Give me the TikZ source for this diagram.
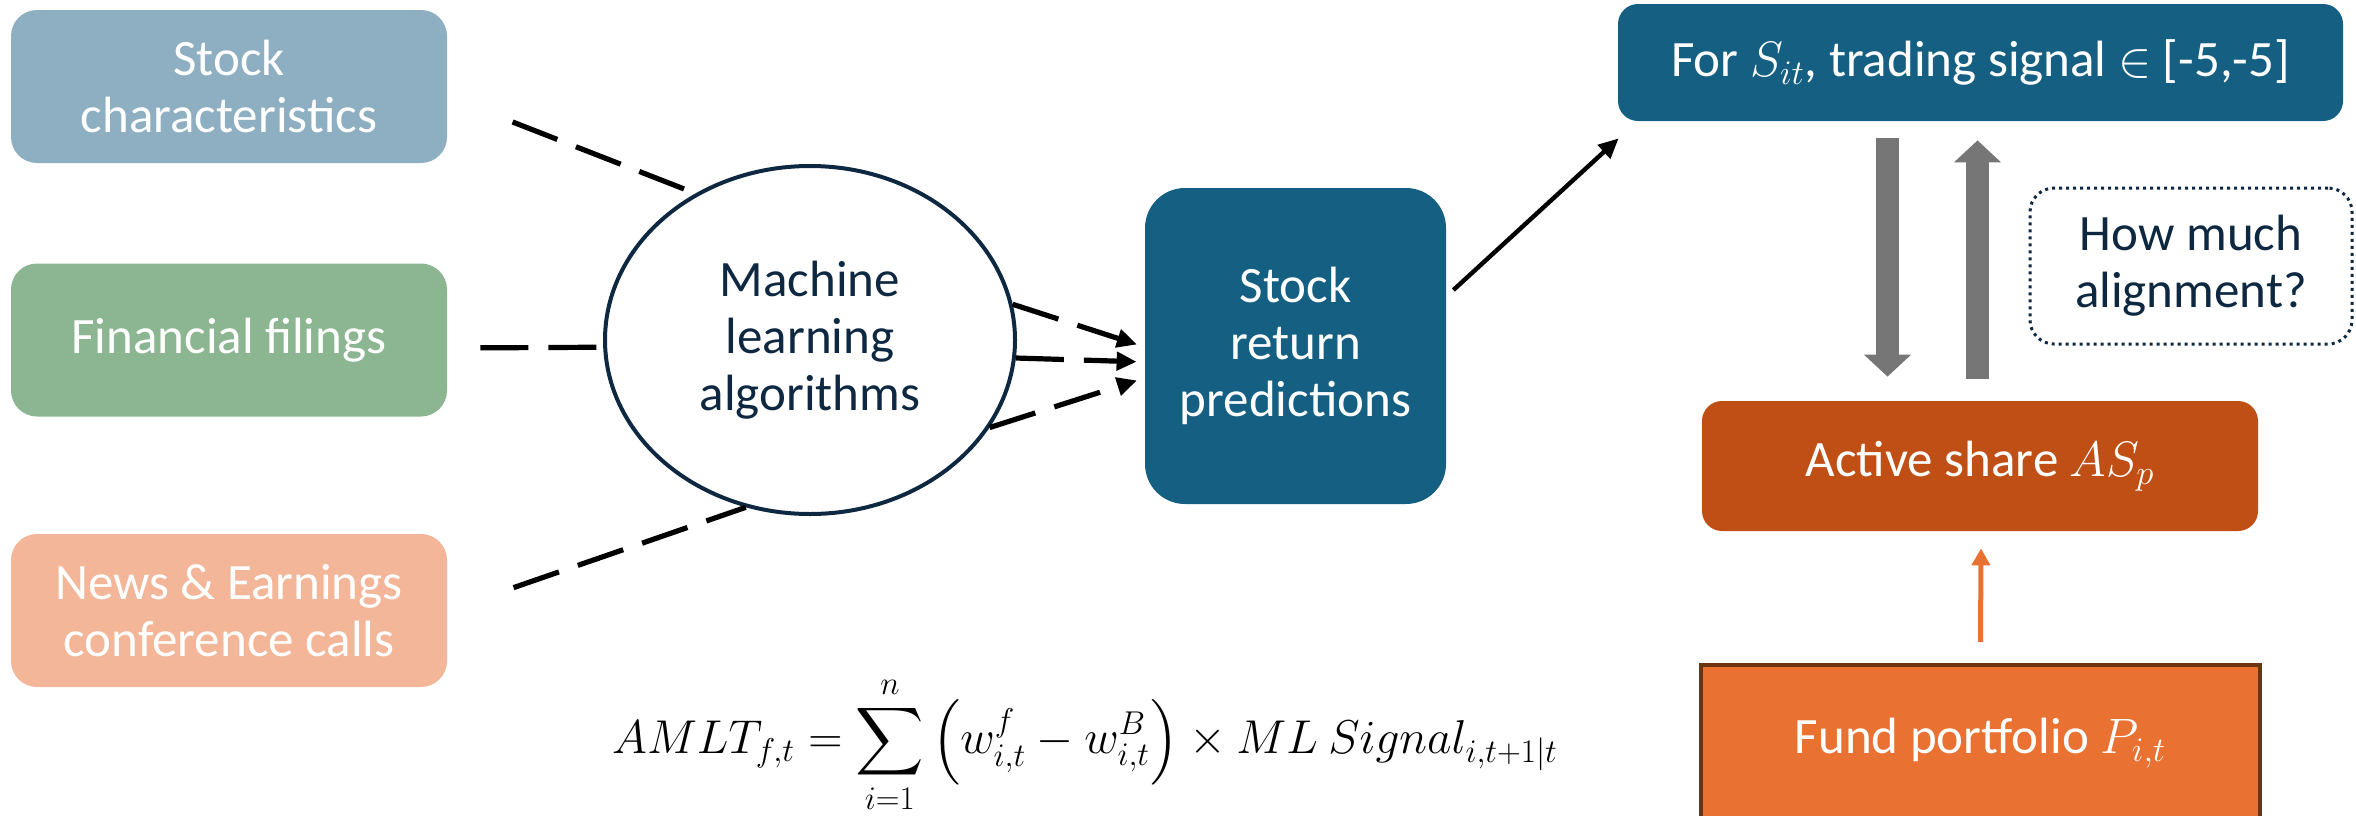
\documentclass[tikz,border=0pt]{standalone}
\usepackage[no-math]{fontspec}
\setmainfont{Carlito}
\usepackage{amsmath}
\usetikzlibrary{arrows.meta,calc,shapes.geometric}
\definecolor{charblue}{HTML}{8DAFC1}
\definecolor{filegreen}{HTML}{8BB691}
\definecolor{newspeach}{HTML}{F4B698}
\definecolor{deepblue}{HTML}{156082}
\definecolor{navy}{HTML}{0E2841}
\definecolor{rust}{HTML}{C04F15}
\definecolor{fundorange}{HTML}{E97132}
\definecolor{fundedge}{HTML}{6E3410}
\definecolor{arrowgray}{HTML}{767676}
\tikzset{srcbox/.style={rounded corners=13pt, minimum width=218pt, minimum height=76.5pt, text=white, align=center, inner sep=2pt}}
\tikzset{dashline/.style={line width=2.6pt, dash pattern=on 24pt off 10pt}}

\begin{document}
\begin{tikzpicture}
[x=0.5pt, y=-0.5pt, font=\fontsize{25.5}{28.5}\selectfont,
 grayarrow/.style={arrowgray, line width=11.5pt, -{Triangle[length=11pt,width=23pt]}},
 tipped/.style={-{Triangle[length=10pt,width=9pt]}}]
\useasboundingbox (0,0) rectangle (2356,815);

% sources
\node (stockchar) at (229,86.5) [srcbox, fill=charblue] {Stock\\characteristics};
\node (filings) at (229,340) [srcbox, fill=filegreen] {Financial filings};
\node (news) at (229,610.5) [srcbox, fill=newspeach] {News \& Earnings\\conference calls};

\node (mla) at (810,340) [ellipse, draw=navy, line width=2pt, minimum width=205pt, minimum height=174pt, inner sep=0pt, text=navy, align=center] {Machine\\learning\\algorithms};
\node (pred) at (1295.5,346) [rounded corners=20pt, fill=deepblue, minimum width=150.5pt, minimum height=158pt, text=white, align=center] {Stock\\return\\predictions};

% right column
\node (signal) at (1980.5,62.5) [rounded corners=10pt, fill=deepblue, minimum width=362.5pt, minimum height=58.5pt, text=white] {For $S_{it}$, trading signal $\in$ [-5,-5]};
\node (howmuch) at (2191,266) [rounded corners=12pt, draw=navy, line width=1.5pt, dotted, minimum width=161pt, minimum height=78pt, text=navy, align=center] {How much\\alignment?};
\node (active) at (1980,466) [rounded corners=10pt, fill=rust, minimum width=278pt, minimum height=65pt, text=white] {Active share $AS_p$};
\node (fund) at (1980.5,743) [fill=fundorange, draw=fundedge, line width=2pt, minimum width=279.5pt, minimum height=78pt, text=white] {Fund portfolio $P_{i,t}$};

\node (amlt) at (1085,745) {\scalebox{0.954}{\fontsize{24}{29}\selectfont $\displaystyle AMLT_{f,t} = \sum_{i=1}^{n} \left(w_{i,t}^{f}-w_{i,t}^{B}\right) \times ML\ Signal_{i,t+1|t}$}};

\draw[dashline, shorten <=35pt] ($(stockchar.east)+(0,10)$) -- (mla.128);
\draw[dashline, shorten <=16.5pt] ($(filings.east)+(0,8)$) -- (mla.182);
\draw[dashline, shorten <=35pt] (news.east) -- (mla.249);

\draw[dashline, tipped, shorten >=4pt] (mla.10) -- ($(pred.west)+(0,1)$);
\draw[dashline, tipped, shorten >=4pt] (mla.355) -- ($(pred.west)+(0,16)$);
\draw[dashline, tipped, shorten >=4pt] (mla.334) -- ($(pred.west)+(0,32)$);

\draw[line width=2.2pt, tipped] ($(pred.east)+(7,-56)$) -- ($(signal.south west)+(1,17)$);

\draw[grayarrow] ($(signal.south)+(-93,17)$) -- ($(active.north)+(-92.5,-24)$);
\draw[grayarrow] ($(active.north)+(-2.5,-22)$) -- ($(signal.south)+(-3,19)$);

\draw[fundorange, line width=2.5pt, -{Triangle[length=8.5pt,width=9pt]}] ($(fund.north)+(0,-21)$) -- ($(active.south)+(1,17)$);
\end{tikzpicture}
\end{document}
